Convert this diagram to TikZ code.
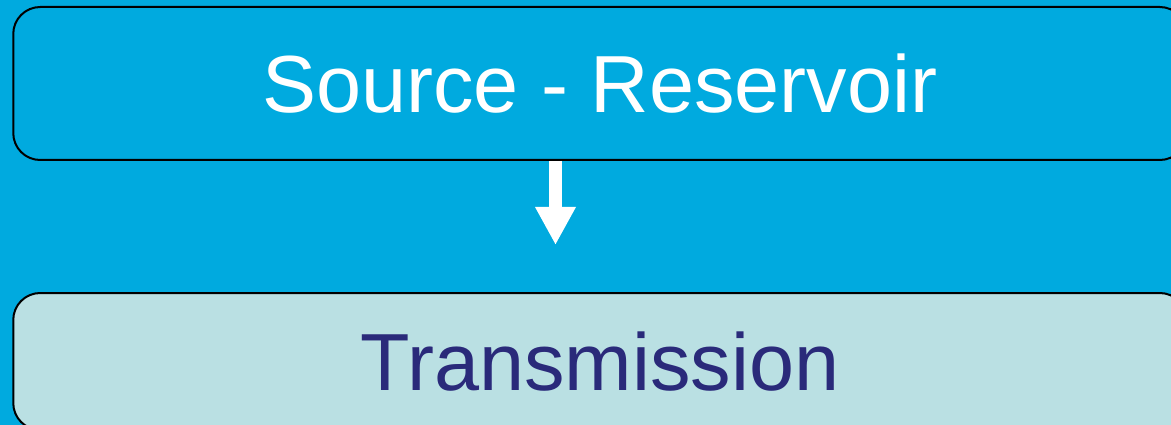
\documentclass[tikz,border=0pt]{standalone}
\usepackage{fontspec}
\setmainfont{Liberation Sans}
\usetikzlibrary{arrows.meta}
\definecolor{bgblue}{HTML}{00AADF}
\definecolor{lightbox}{HTML}{BAE0E3}
\definecolor{navytext}{HTML}{2A2A7A}
\tikzset{
  box/.style={draw=black, line width=2pt, rounded corners=27pt, rectangle,
    inner sep=0pt, text height=58pt, text depth=0pt,
    font=\fontsize{81}{90}\selectfont},
  flowarrow/.style={draw=white, line width=13pt,
    -{Triangle[width=38pt,length=38pt]}, white}
}
\begin{document}
\begin{tikzpicture}[x=1pt,y=-1pt]
  \useasboundingbox (0,0) rectangle (1171,425);
  \clip (0,0) rectangle (1171,425);
  \fill[bgblue] (0,0) rectangle (1171,425);
  \node[box, fill=bgblue, text=white, minimum width=1173.5pt, minimum height=153pt]
    (src) at (600,83.5) {Source - Reservoir};
  \node[box, fill=lightbox, text=navytext, minimum width=1173.5pt, minimum height=137pt]
    (trans) at (600,361.5) {Transmission};
  \coordinate (a0) at (555.5,161);
  \coordinate (a1) at (555.5,245);
  \draw[flowarrow] (a0) -- (a1);
\end{tikzpicture}
\end{document}
